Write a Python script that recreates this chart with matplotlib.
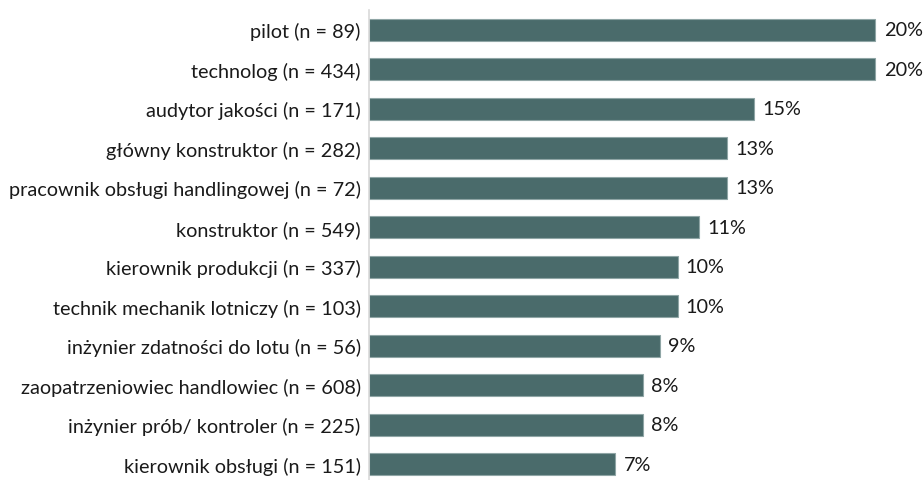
import matplotlib
matplotlib.use("Agg")
import matplotlib.pyplot as plt
import numpy as np

categories = [
    "pilot (n = 89)",
    "technolog (n = 434)",
    "audytor jakości (n = 171)",
    "główny konstruktor (n = 282)",
    "pracownik obsługi handlingowej (n = 72)",
    "konstruktor (n = 549)",
    "kierownik produkcji (n = 337)",
    "technik mechanik lotniczy (n = 103)",
    "inżynier zdatności do lotu (n = 56)",
    "zaopatrzeniowiec handlowiec (n = 608)",
    "inżynier prób/ kontroler (n = 225)",
    "kierownik obsługi (n = 151)",
]
values = [20.36, 20.36, 14.06, 12.62, 12.62, 11.16, 10.06, 10.06, 9.15, 8.26, 8.26, 6.82]
value_labels = ["20%", "20%", "15%", "13%", "13%", "11%", "10%", "10%", "9%", "8%", "8%", "7%"]

x_min, x_max = -6.0, 22.84
bar_color = "#4A6B6B"
edge_color = "#8FA5A5"
font = ["Lato", "DejaVu Sans"]

plt.rcParams["font.family"] = font

fig = plt.figure(figsize=(9.23, 4.81), dpi=100)
ax = fig.add_axes([369 / 923, 1 - 485 / 481, 1 - 369 / 923, 474 / 481])

y = np.arange(len(categories))
vals = np.array(values)
ax.barh(y, vals - x_min, left=x_min, height=0.565, color=bar_color,
        edgecolor=edge_color, linewidth=0.8, zorder=2)

# fit font size so longest label matches reference width
renderer = fig.canvas.get_renderer()
target_w = 351.0
fs = 11.0
t = fig.text(0, 0, max(categories, key=len), fontsize=fs)
w = t.get_window_extent(renderer).width
fs = fs * target_w / w
t.remove()

ax.set_yticks(y)
ax.set_yticklabels(categories, fontsize=fs, color="#1a1a1a")
ax.tick_params(axis="y", length=0, pad=6)
ax.set_xticks([])
ax.set_xlim(x_min, x_max)
ax.set_ylim(len(categories) - 0.5, -0.5)

for s in ["top", "right", "bottom"]:
    ax.spines[s].set_visible(False)
ax.spines["left"].set_color("#D9D9D9")
ax.spines["left"].set_linewidth(1.2)
ax.spines["left"].set_zorder(3)

for yi, v, lab in zip(y, vals, value_labels):
    ax.annotate(lab, xy=(v, yi), xytext=(6, 0), textcoords="offset points",
                va="center", ha="left", fontsize=fs, color="#1a1a1a")

fig.savefig("out.png", dpi=100)
